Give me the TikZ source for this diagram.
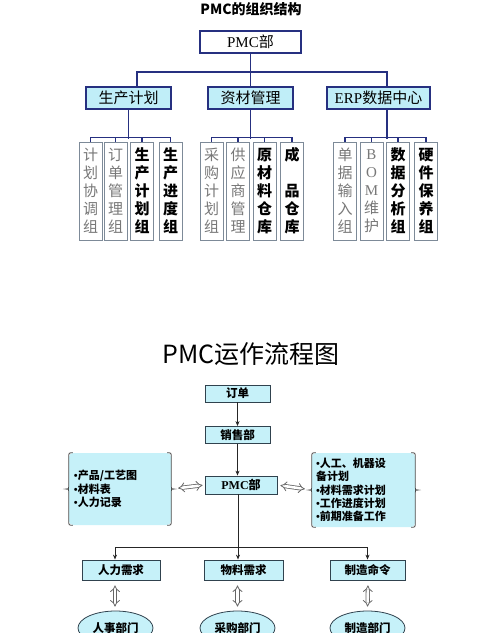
\documentclass[tikz,border=0pt]{standalone}
\usepackage{fontspec}
\setmainfont{Liberation Serif}
\newfontfamily\cjk{Noto Sans CJK SC}
\usetikzlibrary{arrows.meta,shapes.geometric}

\definecolor{navy}{RGB}{38,48,128}
\definecolor{deptfill}{RGB}{192,238,248}
\definecolor{grayblue}{RGB}{125,138,152}
\definecolor{flowfill}{RGB}{198,241,249}
\definecolor{slate}{RGB}{48,66,78}
\definecolor{lighttext}{RGB}{120,120,120}

\tikzset{
  orgline/.style={draw=navy, line width=1.2pt},
  topbox/.style={draw=navy, line width=1.2pt, fill=white, minimum width=101pt, minimum height=22pt, font=\fontsize{15}{17}\selectfont},
  deptbox/.style={draw=navy, line width=1.2pt, fill=deptfill, minimum height=22pt, inner sep=0pt, font=\fontsize{15}{17}\selectfont},
  groupbox/.style={draw=grayblue, line width=1pt, fill=white, minimum width=23pt, minimum height=98pt, inner sep=0pt, align=center, font=\cjk\fontsize{15}{18}\selectfont},
  lightgrp/.style={groupbox, text=lighttext},
  boldgrp/.style={groupbox, font=\cjk\bfseries\fontsize{15}{18}\selectfont},
  flowbox/.style={draw=slate, fill=flowfill, line width=0.8pt, inner sep=0pt, font=\cjk\bfseries\fontsize{11.5}{13}\selectfont},
  infobox/.style={fill=flowfill, rounded corners=4pt, inner xsep=4pt, align=left, font=\cjk\bfseries\fontsize{11}{13.4}\selectfont},
  deptoval/.style={ellipse, draw=slate, fill=flowfill, line width=0.8pt, minimum width=75pt, minimum height=34pt, inner sep=0pt, font=\cjk\bfseries\fontsize{11.5}{13}\selectfont},
  bracestroke/.style={draw=black!70, line width=0.8pt},
  flowarrow/.style={draw=black!85, line width=1pt, -{Stealth[length=5pt,width=4pt]}},
  hollowarrow/.style={draw=black!60, double=white, double distance=2.6pt, line width=0.8pt, {Implies}-{Implies}},
}

% bullet for the info boxes
\newcommand{\itm}{{\rmfamily\textbullet}}

% braces on both sides of an info box
\newcommand{\sidebraces}[1]{%
  \draw[bracestroke] ([xshift=4pt]#1.north west) .. controls (#1.north west) .. ([yshift=-4pt]#1.north west)
    -- ([yshift=3pt]#1.west) .. controls (#1.west) .. ([xshift=-3pt]#1.west)
    .. controls (#1.west) .. ([yshift=-3pt]#1.west)
    -- ([yshift=4pt]#1.south west) .. controls (#1.south west) .. ([xshift=4pt]#1.south west);
  \draw[bracestroke] ([xshift=-4pt]#1.north east) .. controls (#1.north east) .. ([yshift=-4pt]#1.north east)
    -- ([yshift=3pt]#1.east) .. controls (#1.east) .. ([xshift=3pt]#1.east)
    .. controls (#1.east) .. ([yshift=-3pt]#1.east)
    -- ([yshift=4pt]#1.south east) .. controls (#1.south east) .. ([xshift=-4pt]#1.south east);
}

\begin{document}
\begin{tikzpicture}[x=1pt, y=-1pt]
    \useasboundingbox (0,0) rectangle (500,633);
    \clip (0,0) rectangle (500,633);

    % organisation chart
    \node[font=\cjk\bfseries\fontsize{14}{16}\selectfont] (title1) at (251,9) {PMC的组织结构};
    \node[topbox] (pmc) at (250.5,42) {PMC{\cjk 部}};
    \node[deptbox, minimum width=85pt] (plan) at (128.5,98) {\cjk 生产计划};
    \node[deptbox, minimum width=85pt] (mat) at (250.5,98) {\cjk 资材管理};
    \node[deptbox, minimum width=103pt] (erp) at (378.5,98) {ERP{\cjk 数据中心}};
    \coordinate (bus) at (252,72);

    \draw[orgline] (pmc.south) -- (mat.north);
    \draw[orgline] ([xshift=8.5pt]plan.north) |- (bus) -| ([xshift=8.5pt]erp.north);

    \node[lightgrp] (a1) at (90.5,191) {计\\划\\协\\调\\组};
    \node[lightgrp] (a2) at (115.5,191) {订\\单\\管\\理\\组};
    \node[boldgrp] (a3) at (142,191) {生\\产\\计\\划\\组};
    \node[boldgrp] (a4) at (170.5,191) {生\\产\\进\\度\\组};

    \node[lightgrp] (b1) at (211.5,191) {采\\购\\计\\划\\组};
    \node[lightgrp] (b2) at (238,191) {供\\应\\商\\管\\理};
    \node[boldgrp] (b3) at (264.5,191) {原\\材\\料\\仓\\库};
    \node[boldgrp] (b4) at (292,191) {成\\\mbox{}\\品\\仓\\库};

    \node[lightgrp] (c1) at (345,191) {单\\据\\输\\入\\组};
    \node[lightgrp] (c2) at (371.5,191) {{\rmfamily B}\\{\rmfamily O}\\{\rmfamily M}\\维\\护};
    \node[boldgrp] (c3) at (398,191) {数\\据\\分\\析\\组};
    \node[boldgrp] (c4) at (426,191) {硬\\件\\保\\养\\组};

    \draw[orgline] (plan.south) -- ++(0,29);
    \draw[orgline] (mat.south) -- ++(0,29);
    \draw[orgline] ([xshift=8.5pt]erp.south) -- ++(0,29);
    \foreach \g in {a,b,c} {
        \draw[orgline] (\g1.north) -- ++(0,-4) -| (\g4.north);
        \draw[orgline] (\g2.north) -- ++(0,-4);
        \draw[orgline] (\g3.north) -- ++(0,-4);
    }

    % flow chart
    \node[font=\cjk\fontsize{25}{27}\selectfont] (title2) at (251,354) {PMC运作流程图};
    \node[flowbox, minimum width=65pt, minimum height=17pt] (order) at (237.5,393.5) {订单};
    \node[flowbox, minimum width=65pt, minimum height=17pt] (sales) at (237.5,435) {销售部};
    \node[flowbox, minimum width=72pt, minimum height=18pt, font=\cjk\bfseries\fontsize{12}{14}\selectfont] (pmcf) at (241,485) {{\rmfamily PMC}部};

    \node[infobox, minimum width=102pt, minimum height=72pt, text width=92pt] (docs) at (120,489)
        {\itm{}产品/工艺图\\\itm{}材料表\\\itm{}人力记录};
    \node[infobox, minimum width=103pt, minimum height=74pt, text width=95pt] (plans) at (363.5,490)
        {\itm{}人工、机器设\\备计划\\\itm{}材料需求计划\\\itm{}工作进度计划\\\itm{}前期准备工作};
    \sidebraces{docs}
    \sidebraces{plans}

    \node[flowbox, minimum width=78pt, minimum height=20pt] (man) at (121,570) {人力需求};
    \node[flowbox, minimum width=79pt, minimum height=20pt] (need) at (243.5,570) {物料需求};
    \node[flowbox, minimum width=75pt, minimum height=20pt] (make) at (367.5,570) {制造命令};

    \node[deptoval] (hr) at (115.5,628) {人事部门};
    \node[deptoval] (buy) at (237.5,628) {采购部门};
    \node[deptoval] (mfg) at (367.5,628) {制造部门};

    \draw[flowarrow] (order.south) -- (sales.north);
    \draw[flowarrow] (sales.south) -- (sales.south |- pmcf.north);
    \coordinate (split) at (238,547);
    \draw[flowarrow] (pmcf.south -| split) -- (split |- need.north);
    \draw[flowarrow] (split) -| ([xshift=-6pt]man.north);
    \draw[flowarrow] (split) -| (make.north);

    \draw[hollowarrow, shorten <=7pt, shorten >=2pt] (docs.east) -- (pmcf.west);
    \draw[hollowarrow, shorten <=3pt, shorten >=7pt] (pmcf.east) -- (plans.west);
    \draw[hollowarrow, shorten <=5pt, shorten >=4pt] ([xshift=-6pt]man.south) -- ([xshift=-0.5pt]hr.north);
    \draw[hollowarrow, shorten <=5pt, shorten >=4pt] (need.south -| buy.north) -- (buy.north);
    \draw[hollowarrow, shorten <=5pt, shorten >=4pt] ([xshift=0.5pt]make.south) -- (mfg.north);
\end{tikzpicture}
\end{document}
